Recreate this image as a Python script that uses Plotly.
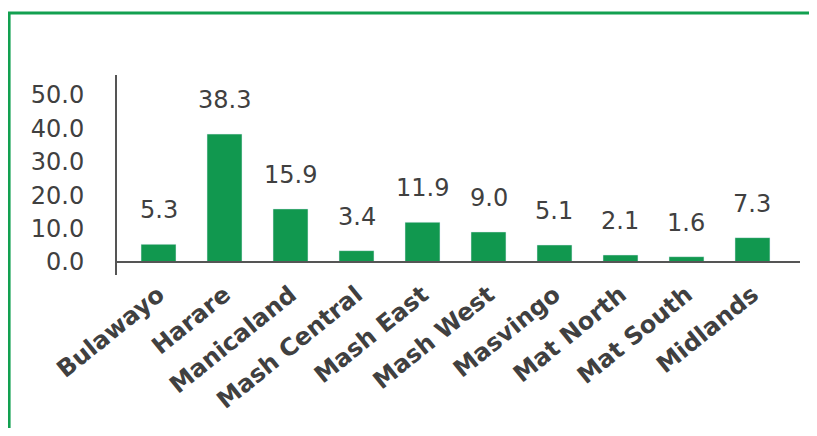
import plotly.graph_objects as go

categories = ["Bulawayo", "Harare", "Manicaland", "Mash Central", "Mash East",
              "Mash West", "Masvingo", "Mat North", "Mat South", "Midlands"]
values = [5.3, 38.3, 15.9, 3.4, 11.9, 9.0, 5.1, 2.1, 1.6, 7.3]
tick_vals = [0, 10, 20, 30, 40, 50]
tick_text = ["0.0", "10.0", "20.0", "30.0", "40.0", "50.0"]

GREEN = "#11984f"
TEXT = "#404040"
FONT = "DejaVu Sans"

x_idx = list(range(len(categories)))

fig = go.Figure()
fig.add_trace(go.Bar(x=x_idx, y=values, marker_color=GREEN, width=0.53,
                     hoverinfo="skip"))

for i, v in zip(x_idx, values):
    fig.add_annotation(x=i, y=v, text=f"{v:.1f}", showarrow=False,
                       yanchor="middle", yshift=34,
                       font=dict(family=FONT, size=24, color=TEXT))

# x-axis baseline at zero
fig.add_shape(type="line", xref="paper", yref="y", x0=0, x1=1, y0=0, y1=0,
              line=dict(color="#555555", width=2))
# green frame (top and left)
fig.add_shape(type="path", xref="paper", yref="paper",
              path="M -0.158,-0.81 L -0.158,1.31 L 1.03,1.31",
              line=dict(color="#12a050", width=3))

fig.update_layout(
    width=801, height=420,
    margin=dict(l=109, r=9, t=67, b=153),
    plot_bgcolor="white", paper_bgcolor="white",
    showlegend=False,
    font=dict(family=FONT, color=TEXT),
    xaxis=dict(range=[-0.629, 9.72], tickmode="array", tickvals=x_idx,
               ticktext=[f"<b>{c}</b>" for c in categories], tickangle=-39,
               tickfont=dict(family=FONT, size=24, color=TEXT),
               showgrid=False, showline=False, zeroline=False, ticks=""),
    yaxis=dict(range=[-3.89, 55.99], tickmode="array", tickvals=tick_vals,
               ticktext=tick_text, showgrid=False, zeroline=False,
               showline=True, linecolor="#555555", linewidth=2, ticks="",
               ticklabelstandoff=26,
               tickfont=dict(family=FONT, size=24, color=TEXT)),
)

fig.write_html("out.html")
